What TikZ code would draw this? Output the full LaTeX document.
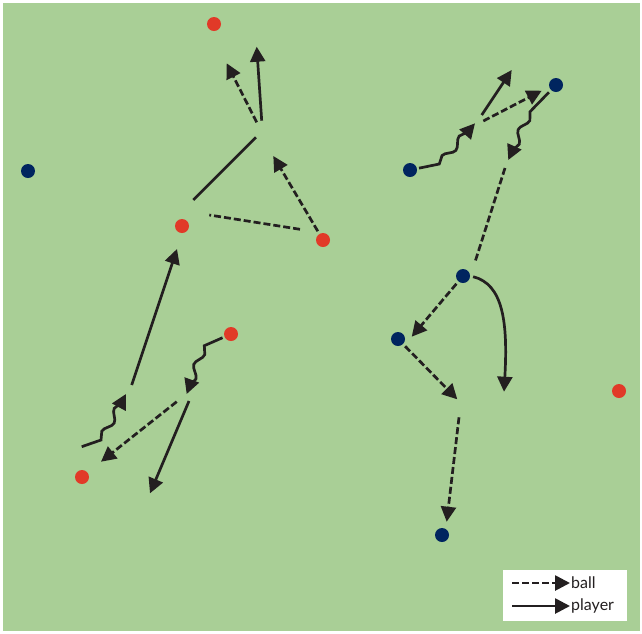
\documentclass[tikz,border=0pt]{standalone}
\usepackage{fontspec}
\setmainfont{Lato}
\usetikzlibrary{arrows.meta,decorations.pathmorphing}
\definecolor{pitch}{RGB}{169,207,150}
\definecolor{redteam}{RGB}{225,58,40}
\definecolor{blueteam}{RGB}{0,37,95}
\definecolor{ink}{RGB}{35,31,32}

\begin{document}
\begin{tikzpicture}[x=1pt,y=-1pt,redplayer/.style={circle,fill=redteam,minimum size=14pt,inner sep=0pt},blueplayer/.style={circle,fill=blueteam,minimum size=14pt,inner sep=0pt},ball/.style={draw=ink,line width=2.7pt,dash pattern=on 7pt off 3pt,-{Triangle[length=15pt,width=15pt]}},balltrail/.style={draw=ink,line width=2.7pt,dash pattern=on 7pt off 3pt},player/.style={draw=ink,line width=2.7pt,-{Triangle[length=15pt,width=15pt]}},playertrail/.style={draw=ink,line width=2.7pt},dribble/.style={draw=ink,line width=2.7pt,-{Triangle[length=15pt,width=15pt]},decoration={snake,amplitude=3.5pt,segment length=26pt,post length=8pt}},key/.style={font=\fontsize{16}{19}\selectfont,anchor=west,inner sep=1pt,text=ink}]
\useasboundingbox (0,0) rectangle (642,633);
\fill[white] (0,0) rectangle (642,633);
\fill[pitch] (3,3) rectangle (640,631);
\node[redplayer] (r1) at (214,24) {};
\node[redplayer] (r2) at (182,226) {};
\node[redplayer] (r3) at (323,240) {};
\node[redplayer] (r4) at (231,334) {};
\node[redplayer] (r5) at (82,477) {};
\node[redplayer] (r6) at (619,391) {};
\node[blueplayer] (b1) at (28,171) {};
\node[blueplayer] (b2) at (410,170) {};
\node[blueplayer] (b3) at (556,85) {};
\node[blueplayer] (b4) at (463,276) {};
\node[blueplayer] (b5) at (398,339) {};
\node[blueplayer] (b6) at (442,535) {};
\coordinate (A1) at (261.7,120.7);
\coordinate (A2) at (256.7,46.7);
\coordinate (B1) at (256.7,122.3);
\coordinate (B2) at (226.7,63.3);
\coordinate (C1) at (256,137.3);
\coordinate (C2) at (193.3,200);
\coordinate (D1) at (300,229.3);
\coordinate (D2) at (209.3,215);
\coordinate (E2) at (273.3,156);
\coordinate (F1) at (204.3,345.7);
\coordinate (F2) at (186.7,394);
\coordinate (G1) at (131.7,385);
\coordinate (G2) at (177,249);
\coordinate (H0) at (81.7,446.7);
\coordinate (H1) at (101,440);
\coordinate (H2) at (126,394);
\coordinate (I1) at (176.7,401.7);
\coordinate (I2) at (101,461.7);
\coordinate (J1) at (189,401);
\coordinate (J2) at (150,493.3);
\coordinate (K1) at (439.3,164);
\coordinate (K2) at (475,123.3);
\coordinate (L1) at (481.7,115);
\coordinate (L2) at (511.7,70);
\coordinate (M1) at (483.3,121);
\coordinate (M2) at (541.7,90.7);
\coordinate (N1) at (530,111.7);
\coordinate (N2) at (508.3,160);
\coordinate (O1) at (505,168);
\coordinate (O2) at (475,262);
\coordinate (P2) at (411.7,336.7);
\coordinate (Q2) at (457.3,399.3);
\coordinate (R2) at (504,391.7);
\coordinate (S1) at (459,417.3);
\coordinate (S2) at (446.7,521.7);
\draw[player] (A1) -- (A2);
\draw[ball] (B1) -- (B2);
\draw[playertrail] (C1) -- (C2);
\draw[balltrail] (D1) -- (D2);
\draw[ball,shorten <=3pt] (r3) -- (E2);
\draw[dribble,shorten <=2pt] (r4) -- (F1) decorate {-- (F2)};
\draw[player] (G1) -- (G2);
\draw[dribble] (H0) -- (H1) decorate {-- (H2)};
\draw[ball] (I1) -- (I2);
\draw[player] (J1) -- (J2);
\draw[dribble,shorten <=2pt] (b2) -- (K1) decorate {-- (K2)};
\draw[player] (L1) -- (L2);
\draw[ball] (M1) -- (M2);
\draw[dribble,shorten <=3pt] (b3) -- (N1) decorate {-- (N2)};
\draw[balltrail] (O1) -- (O2);
\draw[ball,shorten <=3pt] (b4) -- (P2);
\draw[ball,shorten <=3pt] (b5) -- (Q2);
\draw[player,shorten <=3pt] (b4.east) .. controls (503,284) and (508,322) .. (R2);
\draw[ball] (S1) -- (S2);
\fill[white] (502.7,570) rectangle (627.3,621);
\node[key] (kball) at (570,583) {ball};
\node[key] (kplayer) at (570,606) {player};
\coordinate (kb) at (512,583);
\coordinate (kp) at (512,606);
\draw[ball] (kb) -- (kball.west);
\draw[player] (kp) -- (kplayer.west);
\end{tikzpicture}
\end{document}
